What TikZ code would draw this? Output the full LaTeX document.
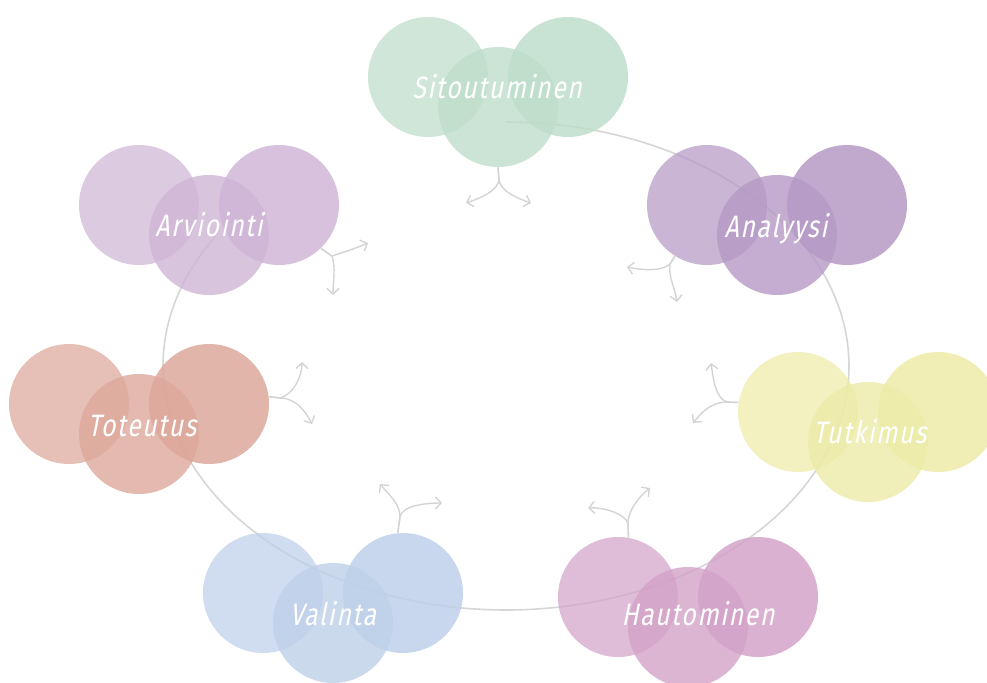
\documentclass[tikz,border=0pt]{standalone}
\usepackage{fontspec}
\usetikzlibrary{arrows.meta}
\IfFontExistsTF{FiraSans-LightItalic.otf}
  {\newfontfamily\lblfont{FiraSans-LightItalic.otf}[FakeStretch=0.8,LetterSpace=5]}
  {\newfontfamily\lblfont{Fira Sans}[FakeSlant=0.2,FakeStretch=0.8,LetterSpace=5]}

\definecolor{cSit}{RGB}{190,221,202}
\definecolor{cAna}{RGB}{181,153,197}
\definecolor{cArv}{RGB}{207,181,214}
\definecolor{cTot}{RGB}{221,167,155}
\definecolor{cTut}{RGB}{237,235,167}
\definecolor{cVal}{RGB}{190,207,233}
\definecolor{cHau}{RGB}{211,162,200}
\definecolor{ringgray}{RGB}{214,214,214}
\definecolor{arrowgray}{RGB}{212,212,212}

% three overlapping bubbles: left, right, and the lower middle one
\newcommand\bubbletrio[4]{%
  \node[bubble,fill=#2,fill opacity=0.72] (#1L) at ({#3-70},{#4-30}) {};
  \node[bubble,fill=#2,fill opacity=0.84] (#1R) at ({#3+70},{#4-30}) {};
  \node[bubble,fill=#2,fill opacity=0.8] (#1M) at (#3,#4) {};
}

\begin{document}
\begin{tikzpicture}[x=0.5pt,y=-0.5pt,
  bubble/.style={circle,minimum size=60pt,inner sep=0pt,draw=none},
  lbl/.style={text=white,anchor=base,inner sep=0pt,font=\lblfont\fontsize{15.5}{18}\selectfont},
  ring/.style={draw=ringgray,line width=0.8pt},
  arr/.style={draw=arrowgray,line width=0.7pt,-{Straight Barb[length=2.8pt,width=6pt]}}]
\useasboundingbox (0,0) rectangle (987,682);
\clip (0,0) rectangle (987,682);

% the cycle line
\draw[ring] plot[domain=212:-90,samples=180,smooth] ({506+343*cos(\x)},{366+244*sin(\x)});

% bubble groups
\bubbletrio{sit}{cSit}{498}{107}
\bubbletrio{ana}{cAna}{777}{235}
\bubbletrio{arv}{cArv}{209}{235}
\bubbletrio{tot}{cTot}{139}{434}
\bubbletrio{tut}{cTut}{868}{442}
\bubbletrio{val}{cVal}{333}{623}
\bubbletrio{hau}{cHau}{688}{627}

% forked arrows
\coordinate (sitJ) at (499,179);
\coordinate (sitA) at (466,203);
\coordinate (sitB) at (531,203);
\draw[arr] (sitM.south) -- (sitJ) .. controls +(0,12) and +(12,-4) .. (sitA);
\draw[arr] (sitM.south) -- (sitJ) .. controls +(0,12) and +(-12,-4) .. (sitB);

\coordinate (anaJ) at (670,264);
\coordinate (anaA) at (627,267);
\coordinate (anaB) at (677,302);
\draw[arr] (anaL.238) -- (anaJ) .. controls +(-10,8) and +(16,3) .. (anaA);
\draw[arr] (anaL.238) -- (anaJ) .. controls +(-2,12) and +(-2,-14) .. (anaB);

\coordinate (arvJ) at (332,256);
\coordinate (arvA) at (368,243);
\coordinate (arvB) at (333,295);
\draw[arr] (arvR.314) -- (arvJ) .. controls +(12,-4) and +(-14,6) .. (arvA);
\draw[arr] (arvR.314) -- (arvJ) .. controls +(4,12) and +(0,-14) .. (arvB);

\coordinate (totJ) at (280,398);
\coordinate (totA) at (302,362);
\coordinate (totB) at (312,424);
\draw[arr] (totR.7) -- (totJ) .. controls +(14,-4) and +(0,14) .. (totA);
\draw[arr] (totR.7) -- (totJ) .. controls +(16,0) and +(-6,-12) .. (totB);

\coordinate (tutJ) at (727,402);
\coordinate (tutA) at (711,363);
\coordinate (tutB) at (693,423);
\draw[arr] (tutL.171) -- (tutJ) .. controls +(-12,-4) and +(2,14) .. (tutA);
\draw[arr] (tutL.171) -- (tutJ) .. controls +(-16,0) and +(8,-10) .. (tutB);

\coordinate (valJ) at (400,517);
\coordinate (valA) at (380,484);
\coordinate (valB) at (442,503);
\draw[arr] (valR.95) -- (valJ) .. controls +(0,-14) and +(8,10) .. (valA);
\draw[arr] (valR.95) -- (valJ) .. controls +(2,-12) and +(-14,0) .. (valB);

\coordinate (hauJ) at (628,523);
\coordinate (hauA) at (588,508);
\coordinate (hauB) at (650,488);
\draw[arr] (hauL.80) -- (hauJ) .. controls +(-4,-10) and +(14,-1) .. (hauA);
\draw[arr] (hauL.80) -- (hauJ) .. controls +(0,-14) and +(-8,6) .. (hauB);

% labels
\node[lbl] (sitT) at (497,98) {Sitoutuminen};
\node[lbl] (anaT) at (776,237) {Analyysi};
\node[lbl] (arvT) at (209,236) {Arviointi};
\node[lbl] (totT) at (142,436) {Toteutus};
\node[lbl] (tutT) at (870,443) {Tutkimus};
\node[lbl] (valT) at (333,625) {Valinta};
\node[lbl] (hauT) at (698,625) {Hautominen};
\end{tikzpicture}
\end{document}
